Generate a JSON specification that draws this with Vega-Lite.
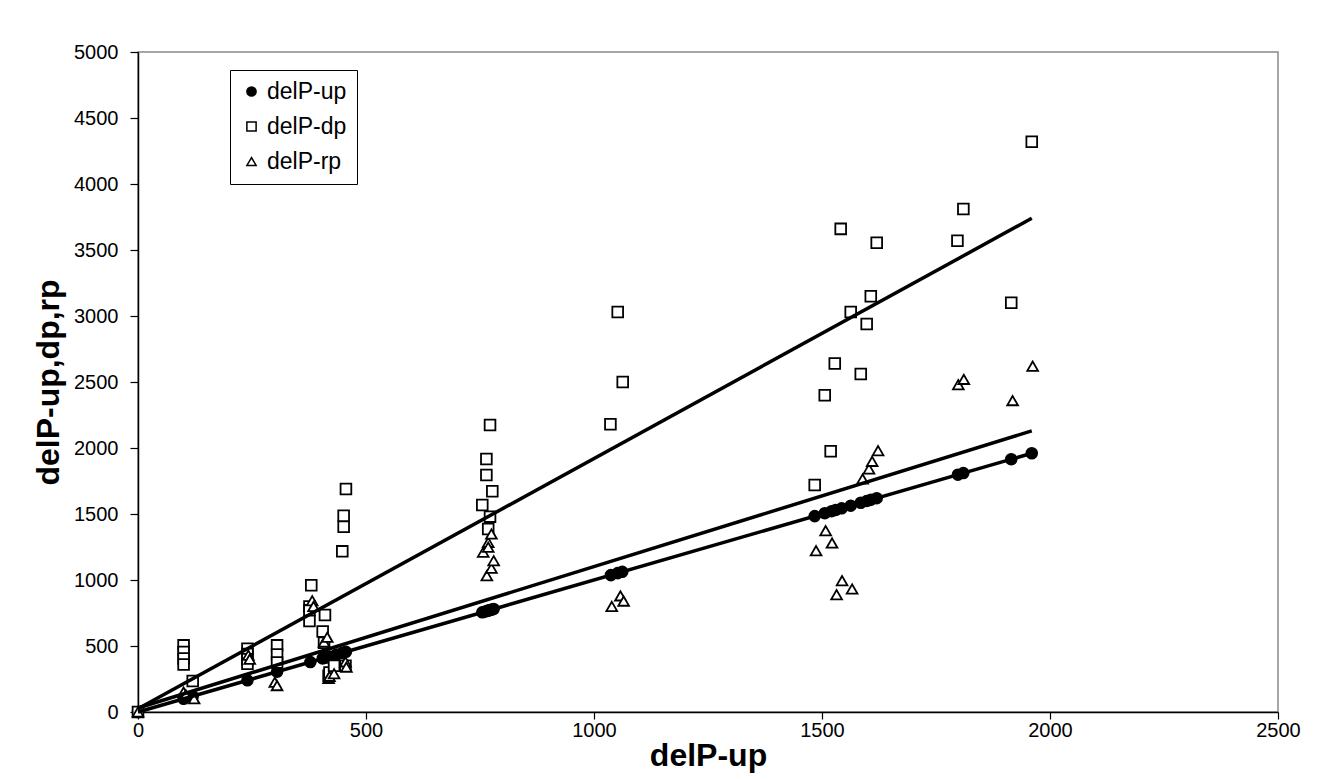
{
  "$schema": "https://vega.github.io/schema/vega-lite/v6.json",
  "autosize": {"type": "none"},
  "width": 1140,
  "height": 660,
  "padding": {"left": 138, "top": 52, "right": 44, "bottom": 67},
  "background": "white",
  "config": {
    "font": "Liberation Sans",
    "view": {"stroke": "#8a8a8a", "strokeWidth": 1.5}
  },
  "datasets": {
    "trend": [
      {"series": "delP-up", "x": 0, "y": 0},
      {"series": "delP-up", "x": 1960, "y": 1960},
      {"series": "delP-dp", "x": 0, "y": 25},
      {"series": "delP-dp", "x": 1960, "y": 3740},
      {"series": "delP-rp", "x": 0, "y": 30},
      {"series": "delP-rp", "x": 1960, "y": 2130}
    ],
    "pts": [
      {"series": "delP-up", "x": 0, "y": 0},
      {"series": "delP-up", "x": 100, "y": 100},
      {"series": "delP-up", "x": 120, "y": 120},
      {"series": "delP-up", "x": 240, "y": 240},
      {"series": "delP-up", "x": 305, "y": 305},
      {"series": "delP-up", "x": 378, "y": 378},
      {"series": "delP-up", "x": 405, "y": 405},
      {"series": "delP-up", "x": 412, "y": 412},
      {"series": "delP-up", "x": 420, "y": 420},
      {"series": "delP-up", "x": 435, "y": 435},
      {"series": "delP-up", "x": 448, "y": 448},
      {"series": "delP-up", "x": 456, "y": 456},
      {"series": "delP-up", "x": 755, "y": 755},
      {"series": "delP-up", "x": 760, "y": 760},
      {"series": "delP-up", "x": 765, "y": 765},
      {"series": "delP-up", "x": 768, "y": 768},
      {"series": "delP-up", "x": 772, "y": 772},
      {"series": "delP-up", "x": 777, "y": 777},
      {"series": "delP-up", "x": 780, "y": 780},
      {"series": "delP-up", "x": 1037, "y": 1037},
      {"series": "delP-up", "x": 1052, "y": 1052},
      {"series": "delP-up", "x": 1062, "y": 1062},
      {"series": "delP-up", "x": 1484, "y": 1484},
      {"series": "delP-up", "x": 1506, "y": 1506},
      {"series": "delP-up", "x": 1521, "y": 1521},
      {"series": "delP-up", "x": 1530, "y": 1530},
      {"series": "delP-up", "x": 1543, "y": 1543},
      {"series": "delP-up", "x": 1563, "y": 1563},
      {"series": "delP-up", "x": 1585, "y": 1585},
      {"series": "delP-up", "x": 1598, "y": 1598},
      {"series": "delP-up", "x": 1607, "y": 1607},
      {"series": "delP-up", "x": 1620, "y": 1620},
      {"series": "delP-up", "x": 1798, "y": 1798},
      {"series": "delP-up", "x": 1810, "y": 1810},
      {"series": "delP-up", "x": 1915, "y": 1915},
      {"series": "delP-up", "x": 1960, "y": 1960},

      {"series": "delP-dp", "x": 0, "y": 0},
      {"series": "delP-dp", "x": 100, "y": 505},
      {"series": "delP-dp", "x": 100, "y": 455},
      {"series": "delP-dp", "x": 100, "y": 405},
      {"series": "delP-dp", "x": 100, "y": 360},
      {"series": "delP-dp", "x": 120, "y": 235},
      {"series": "delP-dp", "x": 240, "y": 480},
      {"series": "delP-dp", "x": 240, "y": 440},
      {"series": "delP-dp", "x": 240, "y": 400},
      {"series": "delP-dp", "x": 240, "y": 365},
      {"series": "delP-dp", "x": 305, "y": 505},
      {"series": "delP-dp", "x": 305, "y": 435},
      {"series": "delP-dp", "x": 305, "y": 375},
      {"series": "delP-dp", "x": 380, "y": 960},
      {"series": "delP-dp", "x": 376, "y": 800},
      {"series": "delP-dp", "x": 376, "y": 770},
      {"series": "delP-dp", "x": 376, "y": 690},
      {"series": "delP-dp", "x": 405, "y": 610},
      {"series": "delP-dp", "x": 410, "y": 735},
      {"series": "delP-dp", "x": 408, "y": 525},
      {"series": "delP-dp", "x": 418, "y": 275},
      {"series": "delP-dp", "x": 420, "y": 300},
      {"series": "delP-dp", "x": 430, "y": 350},
      {"series": "delP-dp", "x": 448, "y": 1217},
      {"series": "delP-dp", "x": 451, "y": 1404},
      {"series": "delP-dp", "x": 451, "y": 1487},
      {"series": "delP-dp", "x": 456, "y": 1689},
      {"series": "delP-dp", "x": 455, "y": 350},
      {"series": "delP-dp", "x": 755, "y": 1568},
      {"series": "delP-dp", "x": 764, "y": 1917},
      {"series": "delP-dp", "x": 764, "y": 1795},
      {"series": "delP-dp", "x": 768, "y": 1386},
      {"series": "delP-dp", "x": 772, "y": 2174},
      {"series": "delP-dp", "x": 772, "y": 1480},
      {"series": "delP-dp", "x": 777, "y": 1672},
      {"series": "delP-dp", "x": 1036, "y": 2180},
      {"series": "delP-dp", "x": 1052, "y": 3030},
      {"series": "delP-dp", "x": 1063, "y": 2500},
      {"series": "delP-dp", "x": 1484, "y": 1720},
      {"series": "delP-dp", "x": 1506, "y": 2400},
      {"series": "delP-dp", "x": 1519, "y": 1975},
      {"series": "delP-dp", "x": 1528, "y": 2640},
      {"series": "delP-dp", "x": 1541, "y": 3660},
      {"series": "delP-dp", "x": 1563, "y": 3030},
      {"series": "delP-dp", "x": 1585, "y": 2560},
      {"series": "delP-dp", "x": 1598, "y": 2940},
      {"series": "delP-dp", "x": 1607, "y": 3150},
      {"series": "delP-dp", "x": 1620, "y": 3555},
      {"series": "delP-dp", "x": 1797, "y": 3570},
      {"series": "delP-dp", "x": 1810, "y": 3810},
      {"series": "delP-dp", "x": 1915, "y": 3100},
      {"series": "delP-dp", "x": 1960, "y": 4320},

      {"series": "delP-rp", "x": 0, "y": 0},
      {"series": "delP-rp", "x": 100, "y": 150},
      {"series": "delP-rp", "x": 105, "y": 130},
      {"series": "delP-rp", "x": 123, "y": 100},
      {"series": "delP-rp", "x": 242, "y": 430},
      {"series": "delP-rp", "x": 245, "y": 400},
      {"series": "delP-rp", "x": 300, "y": 225},
      {"series": "delP-rp", "x": 305, "y": 200},
      {"series": "delP-rp", "x": 382, "y": 843},
      {"series": "delP-rp", "x": 385, "y": 800},
      {"series": "delP-rp", "x": 408, "y": 530},
      {"series": "delP-rp", "x": 415, "y": 566},
      {"series": "delP-rp", "x": 418, "y": 255},
      {"series": "delP-rp", "x": 420, "y": 270},
      {"series": "delP-rp", "x": 430, "y": 290},
      {"series": "delP-rp", "x": 455, "y": 380},
      {"series": "delP-rp", "x": 457, "y": 340},
      {"series": "delP-rp", "x": 757, "y": 1210},
      {"series": "delP-rp", "x": 765, "y": 1033},
      {"series": "delP-rp", "x": 768, "y": 1285},
      {"series": "delP-rp", "x": 768, "y": 1248},
      {"series": "delP-rp", "x": 775, "y": 1348},
      {"series": "delP-rp", "x": 775, "y": 1089},
      {"series": "delP-rp", "x": 780, "y": 1146},
      {"series": "delP-rp", "x": 1039, "y": 800},
      {"series": "delP-rp", "x": 1058, "y": 880},
      {"series": "delP-rp", "x": 1065, "y": 840},
      {"series": "delP-rp", "x": 1487, "y": 1222},
      {"series": "delP-rp", "x": 1508, "y": 1374},
      {"series": "delP-rp", "x": 1522, "y": 1280},
      {"series": "delP-rp", "x": 1532, "y": 889},
      {"series": "delP-rp", "x": 1544, "y": 995},
      {"series": "delP-rp", "x": 1566, "y": 932},
      {"series": "delP-rp", "x": 1589, "y": 1765},
      {"series": "delP-rp", "x": 1603, "y": 1841},
      {"series": "delP-rp", "x": 1610, "y": 1899},
      {"series": "delP-rp", "x": 1623, "y": 1980},
      {"series": "delP-rp", "x": 1799, "y": 2480},
      {"series": "delP-rp", "x": 1811, "y": 2520},
      {"series": "delP-rp", "x": 1918, "y": 2359},
      {"series": "delP-rp", "x": 1962, "y": 2620}
    ]
  },
  "encoding": {
    "x": {"field": "x", "type": "quantitative", "title": "delP-up",
      "scale": {"domain": [0, 2500], "nice": false},
      "axis": {"values": [0, 500, 1000, 1500, 2000, 2500], "format": "d", "grid": false,
        "domainColor": "black", "domainWidth": 1.5, "tickColor": "black", "tickWidth": 1.2, "tickSize": 7,
        "labelFont": "Liberation Sans", "labelFontSize": 20, "labelColor": "black", "labelPadding": 1, "labelFlush": false,
        "titleFont": "Liberation Sans", "titleFontSize": 32, "titleFontWeight": "bold", "titleColor": "black", "titlePadding": 0}},
    "y": {"field": "y", "type": "quantitative", "title": "delP-up,dp,rp",
      "scale": {"domain": [0, 5000], "nice": false},
      "axis": {"values": [0, 500, 1000, 1500, 2000, 2500, 3000, 3500, 4000, 4500, 5000], "format": "d", "grid": false,
        "domainColor": "black", "domainWidth": 1.5, "tickColor": "black", "tickWidth": 1.2, "tickSize": 8,
        "labelFont": "Liberation Sans", "labelFontSize": 20, "labelColor": "black", "labelPadding": 12, "labelFlush": false,
        "titleFont": "Liberation Sans", "titleFontSize": 32, "titleFontWeight": "bold", "titleColor": "black", "titlePadding": 8}}
  },
  "layer": [
    {
      "data": {"name": "pts"},
      "mark": {"type": "point", "strokeWidth": 1.8, "opacity": 1, "size": 115},
      "encoding": {
        "shape": {"field": "series", "type": "nominal", "title": null,
          "scale": {"domain": ["delP-up", "delP-dp", "delP-rp"], "range": ["circle", "square", "triangle-up"]},
          "legend": {"orient": "none", "legendX": 92, "legendY": 18, "strokeColor": "black", "padding": 10, "labelFontSize": 23, "labelFont": "Liberation Sans", "labelColor": "black", "symbolSize": 85, "symbolStrokeWidth": 1.5, "rowPadding": 11, "labelOffset": 4, "fillColor": "white", "cornerRadius": 0}},
        "fill": {"field": "series", "type": "nominal", "title": null,
          "scale": {"domain": ["delP-up", "delP-dp", "delP-rp"], "range": ["black", "white", "white"]}},
        "stroke": {"field": "series", "type": "nominal", "title": null,
          "scale": {"domain": ["delP-up", "delP-dp", "delP-rp"], "range": ["black", "black", "black"]}}
      }
    },
    {
      "data": {"name": "trend"},
      "mark": {"type": "line", "color": "black", "strokeWidth": 3.5},
      "encoding": {"detail": {"field": "series", "type": "nominal"}}
    }
  ]
}
